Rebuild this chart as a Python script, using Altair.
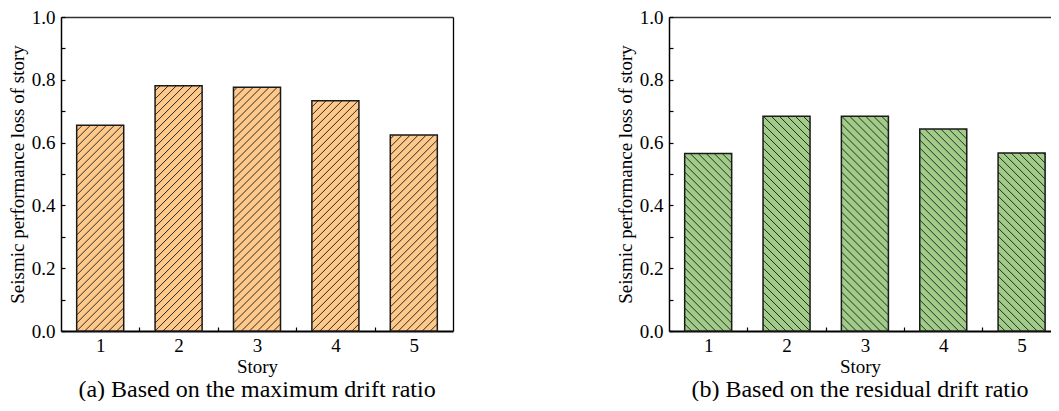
import altair as alt
import pandas as pd

# ---- data ----
stories = [1, 2, 3, 4, 5]
loss_max_drift = [0.655, 0.781, 0.776, 0.733, 0.624]
loss_residual_drift = [0.565, 0.684, 0.684, 0.643, 0.567]
y_tick_values = [0.0, 0.2, 0.4, 0.6, 0.8, 1.0]
y_minor_ticks = [0.0, 0.1, 0.2, 0.3, 0.4, 0.5, 0.6, 0.7, 0.8, 0.9, 1.0]
x_minor_ticks = [1, 1.5, 2, 2.5, 3, 3.5, 4, 4.5, 5]
captions = ["(a) Based on the maximum drift ratio", "(b) Based on the residual drift ratio"]
y_title = "Seismic performance loss of story"
x_title = "Story"

# ---- layout / style ----
PH = 314
PX_PER_STORY = 78.4
BAR_HALF = 0.3
HATCH = 8
PXX = PX_PER_STORY
PXY = PH / 1.0
FONT = "'Liberation Serif', 'Times New Roman', Times, serif"


def panel(values, fill, direction, caption, x_domain, right_border):
    pw = round((x_domain[1] - x_domain[0]) * PX_PER_STORY)
    df = pd.DataFrame({"story": stories, "loss": values})
    base = alt.Chart(df).transform_calculate(
        x0=f"datum.story - {BAR_HALF}",
        x1=f"datum.story + {BAR_HALF}",
        zero="0",
    )
    xs = alt.Scale(domain=x_domain, nice=False, zero=False)
    ys = alt.Scale(domain=[0, 1], nice=False)

    bars = base.mark_bar(fill=fill, strokeWidth=0).encode(
        x=alt.X("x0:Q", scale=xs, axis=alt.Axis(
            orient="bottom", values=stories, format="d", title=x_title,
            ticks=False, tickSize=0, labelPadding=5, titlePadding=2,
            domain=True, domainColor="black", domainWidth=2, grid=False)),
        x2="x1:Q",
        y=alt.Y("loss:Q", scale=ys, axis=alt.Axis(
            orient="left", values=y_tick_values, format=".1f", title=y_title,
            ticks=False, tickSize=0, labelPadding=6, titlePadding=4,
            domain=True, domainColor="black", domainWidth=1.5, grid=False)),
        y2="zero:Q",
    )

    if direction == "up":
        xa = f"datum.story - {BAR_HALF} + datum.xs / {PXX}"
        xb = f"datum.story - {BAR_HALF} + datum.xe / {PXX}"
    else:
        xa = f"datum.story + {BAR_HALF} - datum.xs / {PXX}"
        xb = f"datum.story + {BAR_HALF} - datum.xe / {PXX}"

    hatch = base.transform_calculate(
        bw=f"{2 * BAR_HALF * PXX}",
        bh=f"datum.loss * {PXY}",
    ).transform_calculate(
        ts=f"sequence(-ceil(datum.bh / {HATCH}) * {HATCH}, datum.bw, {HATCH})"
    ).transform_flatten(["ts"], as_=["t"]).transform_calculate(
        xs="max(0, datum.t)",
        xe="min(datum.bw, datum.t + datum.bh)",
    ).transform_filter("datum.xs < datum.xe").transform_calculate(
        ya=f"(datum.xs - datum.t) / {PXY}",
        yb=f"(datum.xe - datum.t) / {PXY}",
        xa=xa,
        xb=xb,
    ).mark_rule(color="#2b2b2b", strokeWidth=1).encode(
        x=alt.X("xa:Q", scale=xs, axis=alt.Axis(
            orient="top", offset=-PH, values=x_minor_ticks, labels=False,
            domain=False, ticks=True, tickSize=4, tickWidth=1.2,
            tickColor="black", title=None, grid=False)),
        x2="xb:Q",
        y=alt.Y("ya:Q", scale=ys, axis=alt.Axis(
            orient="right", offset=-pw, values=y_minor_ticks, labels=False,
            domain=False, ticks=True, tickSize=4, tickWidth=1.2,
            tickColor="black", title=None, grid=False)),
        y2="yb:Q",
    )

    if right_border:
        y_out_axis = alt.Axis(orient="right", labels=False, ticks=False, tickSize=0,
                              domain=True, domainColor="black", domainWidth=1.3,
                              title=None, grid=False)
    else:
        y_out_axis = None

    outline = base.mark_bar(fillOpacity=0, stroke="#1a1a1a", strokeWidth=1.5).encode(
        x=alt.X("x0:Q", scale=xs, axis=alt.Axis(
            orient="top", labels=False, ticks=False, tickSize=0, domain=True,
            domainColor="#333333", domainWidth=1.3, title=None, grid=False)),
        x2="x1:Q",
        y=alt.Y("loss:Q", scale=ys, axis=y_out_axis),
        y2="zero:Q",
    )

    return alt.layer(bars, hatch, outline).resolve_axis(
        x="independent", y="independent"
    ).properties(
        width=pw, height=PH,
        title=alt.TitleParams(caption, orient="bottom", fontSize=24, font=FONT,
                              fontWeight="normal", color="black", offset=2),
    )


left = panel(loss_max_drift, "#FFC98A", "up", captions[0], [0.5, 5.5], True)
right = panel(loss_residual_drift, "#A0CC88", "down", captions[1], [0.5, 5.375], False)

chart = alt.hconcat(left, right, spacing=163).properties(
    padding={"left": 0, "top": 0, "right": 0, "bottom": -1}
).configure_view(
    strokeWidth=0
).configure_axis(
    labelFont=FONT, labelFontSize=19, labelColor="black",
    titleFont=FONT, titleFontSize=19, titleFontWeight="normal", titleColor="black",
)

chart.save("out.html", embed_options={"renderer": "svg", "actions": False})
